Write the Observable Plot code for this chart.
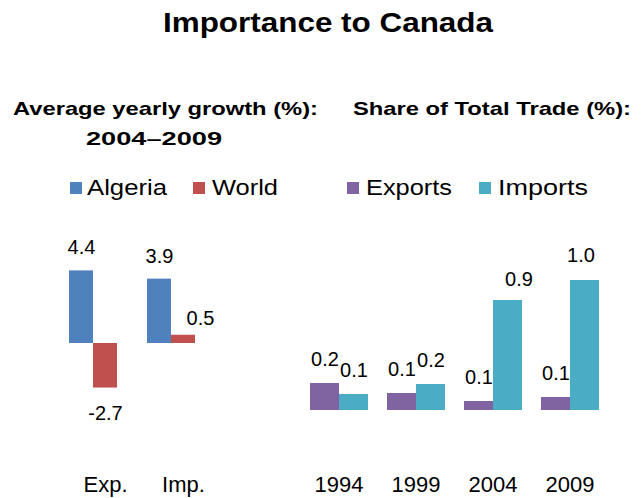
<!DOCTYPE html>
<html>
<head>
<meta charset="utf-8">
<script src="https://cdn.jsdelivr.net/npm/d3@7"></script>
<script src="https://cdn.jsdelivr.net/npm/@observablehq/plot@0.6"></script>
<style>
  html, body { margin: 0; padding: 0; background: #ffffff; }
  #wrap { position: relative; width: 644px; height: 498px; overflow: hidden; background: #ffffff;
          font-family: "Liberation Sans", Arial, sans-serif; color: #000; }
  #wrap > .panel { position: absolute; top: 230px; }
  #overlay { position: absolute; left: 0; top: 0; pointer-events: none; }
</style>
</head>
<body>
<div id="wrap"></div>
<script>
// ---------- data ----------
const titleText = "Importance to Canada";
const growthTitle1 = "Average yearly growth (%):";
const growthTitle2 = "2004\u20132009";
const shareTitle = "Share of Total Trade (%):";

const growthCategories = ["Exp.", "Imp."];
const growthSeries = ["Algeria", "World"];
const algeriaGrowth = [4.4, 3.9];
const worldGrowth = [-2.7, 0.5];

const years = ["1994", "1999", "2004", "2009"];
const shareSeries = ["Exports", "Imports"];
const exportShare = [0.216, 0.136, 0.072, 0.104];
const importShare = [0.128, 0.208, 0.88, 1.04];

const growthColors = ["#4F81BD", "#C0504D"];
const shareColors = ["#8064A2", "#4BACC6"];

// ---------- tables ----------
const growth = growthCategories.flatMap((c, i) => [
  {cat: c, series: growthSeries[0], value: algeriaGrowth[i]},
  {cat: c, series: growthSeries[1], value: worldGrowth[i]}
]);
const share = years.flatMap((y, i) => [
  {year: y, series: shareSeries[0], value: exportShare[i]},
  {year: y, series: shareSeries[1], value: importShare[i]}
]);

const fmt = v => v.toFixed(1);
const FONT = '"Liberation Sans", Arial, sans-serif';
const wrap = document.getElementById("wrap");

// ---------- left panel ----------
const growthChart = Plot.plot({
  width: 320, height: 268,
  marginLeft: 69, marginRight: 125, marginTop: 0, marginBottom: 25,
  style: {fontFamily: FONT, background: "transparent", color: "#000", overflow: "visible"},
  fx: {domain: growthCategories, paddingInner: 0.385, paddingOuter: 0, label: null},
  x: {domain: growthSeries, padding: 0, axis: null},
  y: {domain: [-4, 5], range: [179, 30.5], axis: null},
  color: {domain: growthSeries, range: growthColors},
  marks: [
    Plot.barY(growth, {fx: "cat", x: "series", y: "value", fill: "series"}),
    Plot.text(growth.filter(d => d.value >= 1), {fx: "cat", x: "series", y: "value", text: d => fmt(d.value), dy: -23, fontSize: 20, fill: "#000"}),
    Plot.text(growth.filter(d => d.value > 0 && d.value < 1), {fx: "cat", x: "series", y: "value", text: d => fmt(d.value), dy: -17, dx: 17, fontSize: 20, fill: "#000"}),
    Plot.text(growth.filter(d => d.value < 0), {fx: "cat", x: "series", y: "value", text: d => fmt(d.value), dy: 26, fontSize: 20, fill: "#000"}),
    Plot.axisFx({anchor: "bottom", tickSize: 0, tickPadding: 3, fontSize: 22, dx: 12, label: null})
  ]
});
growthChart.classList.add("panel");
growthChart.style.left = "0px";
wrap.appendChild(growthChart);

// ---------- right panel ----------
const shareChart = Plot.plot({
  width: 344, height: 268,
  marginLeft: 8, marginRight: 43, marginTop: 0, marginBottom: 25,
  style: {fontFamily: FONT, background: "transparent", color: "#000", overflow: "visible"},
  fx: {domain: years, paddingInner: 0.228, paddingOuter: 0, label: null},
  x: {domain: shareSeries, padding: 0, axis: null},
  y: {domain: [0, 1.2], range: [180, 30], axis: null},
  color: {domain: shareSeries, range: shareColors},
  marks: [
    Plot.barY(share, {fx: "year", x: "series", y: "value", fill: "series"}),
    Plot.text(share.filter(d => d.value < 0.5), {fx: "year", x: "series", y: "value", text: d => fmt(d.value), dy: -24, fontSize: 20, fill: "#000"}),
    Plot.text(share.filter(d => d.value >= 0.5 && d.value < 1), {fx: "year", x: "series", y: "value", text: d => fmt(d.value), dy: -21, dx: 11, fontSize: 20, fill: "#000"}),
    Plot.text(share.filter(d => d.value >= 1), {fx: "year", x: "series", y: "value", text: d => fmt(d.value), dy: -25, dx: -4, fontSize: 20, fill: "#000"}),
    Plot.axisFx({anchor: "bottom", tickSize: 0, tickPadding: 3, fontSize: 22, label: null})
  ]
});
shareChart.classList.add("panel");
shareChart.style.left = "300px";
wrap.appendChild(shareChart);

// ---------- titles & legends (text overlay) ----------
const NS = "http://www.w3.org/2000/svg";
const overlay = document.createElementNS(NS, "svg");
overlay.setAttribute("id", "overlay");
overlay.setAttribute("width", 644);
overlay.setAttribute("height", 230);
wrap.appendChild(overlay);

function addText(str, x, y, size, weight, len) {
  const t = document.createElementNS(NS, "text");
  t.setAttribute("x", x);
  t.setAttribute("y", y);
  t.setAttribute("font-family", FONT);
  t.setAttribute("font-size", size);
  t.setAttribute("font-weight", weight);
  t.setAttribute("fill", "#000");
  if (len) { t.setAttribute("textLength", len); t.setAttribute("lengthAdjust", "spacingAndGlyphs"); }
  t.textContent = str;
  overlay.appendChild(t);
}
function addSwatch(x, y, w, h, color) {
  const r = document.createElementNS(NS, "rect");
  r.setAttribute("x", x); r.setAttribute("y", y);
  r.setAttribute("width", w); r.setAttribute("height", h);
  r.setAttribute("fill", color);
  overlay.appendChild(r);
}

addText(titleText, 163, 32, 28, "bold", 330);
addText(growthTitle1, 13, 115, 18.5, "bold", 305);
addText(growthTitle2, 86, 145, 18.5, "bold", 136);
addText(shareTitle, 353, 115, 18.5, "bold", 278);

// legends
const legendItems = [
  {label: growthSeries[0], color: growthColors[0], sx: 70, tx: 87, len: 80},
  {label: growthSeries[1], color: growthColors[1], sx: 193, tx: 212, len: 66},
  {label: shareSeries[0], color: shareColors[0], sx: 347, tx: 366, len: 86},
  {label: shareSeries[1], color: shareColors[1], sx: 479, tx: 498, len: 90}
];
for (const it of legendItems) {
  addSwatch(it.sx, 182, 12, 12, it.color);
  addText(it.label, it.tx, 195, 22, "normal", it.len);
}
</script>
</body>
</html>
